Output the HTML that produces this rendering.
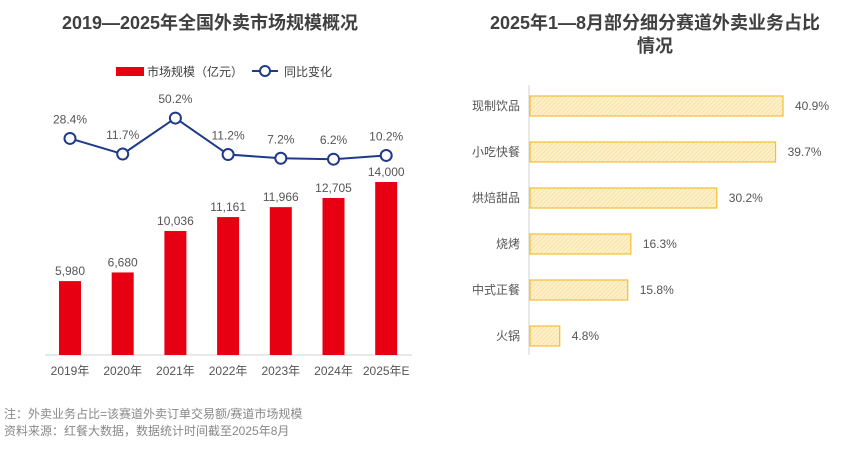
<!DOCTYPE html>
<html><head><meta charset="utf-8">
<style>
body{margin:0;width:856px;height:445px;background:#fff;overflow:hidden;font-family:"Liberation Sans","Noto Sans CJK SC",sans-serif}
svg text{font-family:"Liberation Sans","Noto Sans CJK SC",sans-serif}
</style></head>
<body>
<svg id="c" width="856" height="445">
<defs>
<pattern id="hatch" width="3" height="3" patternUnits="userSpaceOnUse" patternTransform="rotate(45)">
<rect width="3" height="3" fill="#fdf0c8"/><line x1="0" y1="0" x2="0" y2="3" stroke="#f3d88a" stroke-width="1"/>
</pattern>
</defs>
<text x="210" y="29" text-anchor="middle" font-size="18" font-weight="bold" fill="#404040">2019—2025年全国外卖市场规模概况</text>
<text x="655" y="29" text-anchor="middle" font-size="18" font-weight="bold" fill="#404040">2025年1—8月部分细分赛道外卖业务占比</text>
<text x="655" y="52" text-anchor="middle" font-size="18" font-weight="bold" fill="#404040">情况</text>
<g>
<rect x="116" y="67" width="28" height="9" fill="#e60012"/>
<text x="147" y="76" font-size="12" fill="#404040">市场规模（亿元）</text>
<line x1="252" y1="71" x2="278" y2="71" stroke="#1f3a8a" stroke-width="2"/>
<circle cx="265" cy="71" r="5" fill="#fff" stroke="#1f3a8a" stroke-width="2"/>
<text x="284" y="76" font-size="12" fill="#404040">同比变化</text>
</g>
<g id="left"></g>
<g id="right"></g>
<text x="4" y="418" font-size="12" fill="#888">注：外卖业务占比=该赛道外卖订单交易额/赛道市场规模</text>
<text x="4" y="435" font-size="12" fill="#888">资料来源：红餐大数据，数据统计时间截至2025年8月</text>
</svg>
<script>
const years=["2019年","2020年","2021年","2022年","2023年","2024年","2025年E"];
const marketSize=[5980,6680,10036,11161,11966,12705,14000];
const sizeLabels=["5,980","6,680","10,036","11,161","11,966","12,705","14,000"];
const yoy=[28.4,11.7,50.2,11.2,7.2,6.2,10.2];
const categories=["现制饮品","小吃快餐","烘焙甜品","烧烤","中式正餐","火锅"];
const shares=[40.9,39.7,30.2,16.3,15.8,4.8];

const NS="http://www.w3.org/2000/svg";
function mk(p,tag,a,txt){const e=document.createElementNS(NS,tag);for(const k in a)e.setAttribute(k,a[k]);if(txt!==undefined)e.textContent=txt;p.appendChild(e);return e;}
const L=document.getElementById('left'),R=document.getElementById('right');
const x0=70,step=52.7,base=355;
const xs=i=>x0+i*step;
const ySize=v=>base-v*173/14000;
const yLine=v=>165-v*0.935;
let ax=mk(L,'line',{x1:45,y1:base,x2:412,y2:base,stroke:'#d0d0d0','stroke-width':1});


marketSize.forEach((v,i)=>{
  let r=mk(L,'rect',{x:xs(i)-11,y:ySize(v),width:22,height:base-ySize(v),fill:'#e60012'});
  
  
  let t=mk(L,'text',{x:xs(i),y:ySize(v)-6,'text-anchor':'middle','font-size':12,fill:'#555'},sizeLabels[i]);
  
  
  let yl=mk(L,'text',{x:xs(i),y:375,'text-anchor':'middle','font-size':12,fill:'#555'},years[i]);
  
  
});
let pts=yoy.map((v,i)=>xs(i)+','+yLine(v)).join(' ');
let pl=mk(L,'polyline',{points:pts,fill:'none',stroke:'#1f3a8a','stroke-width':2,'stroke-linejoin':'round'});


yoy.forEach((v,i)=>{
  let c=mk(L,'circle',{cx:xs(i),cy:yLine(v),r:5.5,fill:'#fff',stroke:'#1f3a8a','stroke-width':2});
  
  
  let t=mk(L,'text',{x:xs(i),y:yLine(v)-15,'text-anchor':'middle','font-size':12,fill:'#555'},v.toFixed(1)+'%');
  
  
});
const rx0=530,sc=253/40.9;
const yc=i=>106+i*46;
let ra=mk(R,'line',{x1:529,y1:85,x2:529,y2:355,stroke:'#d0d0d0','stroke-width':1});


shares.forEach((v,i)=>{
  let r=mk(R,'rect',{x:rx0,y:yc(i)-10,width:v*sc,height:20,fill:'url(#hatch)',stroke:'#f2bf35','stroke-width':1.2});
  
  
  let c=mk(R,'text',{x:520,y:yc(i)+4,'text-anchor':'end','font-size':12,fill:'#555'},categories[i]);
  
  
  let t=mk(R,'text',{x:rx0+v*sc+12,y:yc(i)+4,'font-size':12,fill:'#555'},v.toFixed(1)+'%');
  
  
});
</script>
</body></html>
